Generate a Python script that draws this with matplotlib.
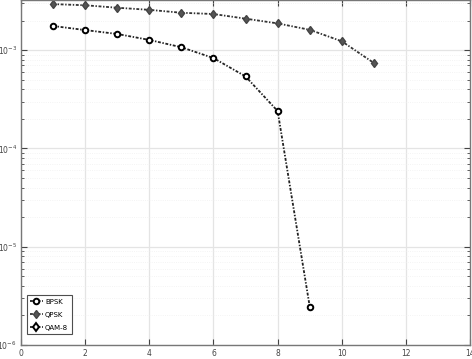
import matplotlib
matplotlib.use("Agg")
import matplotlib.pyplot as plt
from matplotlib.ticker import LogLocator, NullFormatter

# Data
bpsk_x = [1, 2, 3, 4, 5, 6, 7, 8, 9]
bpsk_ber = [1.76e-3, 1.60e-3, 1.46e-3, 1.27e-3, 1.07e-3, 8.3e-4, 5.4e-4, 2.4e-4, 2.46e-6]
qpsk_x = [1, 2, 3, 4, 5, 6, 7, 8, 9, 10, 11]
qpsk_ber = [2.94e-3, 2.86e-3, 2.70e-3, 2.57e-3, 2.40e-3, 2.33e-3, 2.09e-3, 1.87e-3, 1.61e-3, 1.23e-3, 7.4e-4]
qam8_x = []
qam8_ber = []
labels = ["BPSK", "QPSK", "QAM-8"]
xticks = [0, 2, 4, 6, 8, 10, 12, 14]

fig = plt.figure(figsize=(4.72, 3.59), dpi=100)
ax = fig.add_axes([0.0445, 0.039, 0.9515, 0.961])

ls = (0, (1.6, 0.9, 0.8, 0.9))
ax.semilogy(bpsk_x, bpsk_ber, linestyle=ls, color='#222222', linewidth=1.3,
            marker='o', markersize=4, markerfacecolor='white',
            markeredgecolor='black', markeredgewidth=1.4, label=labels[0])
ax.semilogy(qpsk_x, qpsk_ber, linestyle=ls, color='#333333', linewidth=1.3,
            marker='d', markersize=4.5, markerfacecolor='#555555',
            markeredgecolor='#444444', markeredgewidth=1.0, label=labels[1])
ax.semilogy(qam8_x, qam8_ber, linestyle=ls, color='#222222', linewidth=1.3,
            marker='d', markersize=4.5, markerfacecolor='white',
            markeredgecolor='black', markeredgewidth=1.4, label=labels[2])

ax.set_xlim(0, 14)
ax.set_ylim(1e-6, 10 ** -2.49)
ax.set_xticks(xticks)
ax.set_xticklabels([str(t) for t in xticks])
ax.yaxis.set_major_locator(LogLocator(base=10, numticks=10))
ax.yaxis.set_minor_locator(LogLocator(base=10, subs=range(2, 10), numticks=50))
ax.yaxis.set_minor_formatter(NullFormatter())

ax.grid(True, which='major', color='#e4e4e4', linewidth=0.9)
ax.grid(True, which='minor', axis='y', color='#f0f0f0', linewidth=0.6, linestyle=':')
ax.set_axisbelow(True)

ax.tick_params(which='both', direction='in', top=True, right=True,
               labelsize=5.5, colors='#444444', pad=3)
ax.tick_params(which='major', length=4)
ax.tick_params(which='minor', length=2)
for s in ax.spines.values():
    s.set_color('#777777')
    s.set_linewidth(1.0)

ax.set_ylabel("BER", fontsize=6, labelpad=2, color='#333333')

leg = ax.legend(loc='lower left', bbox_to_anchor=(0.008, 0.025), fontsize=5,
                frameon=True, fancybox=False, edgecolor='#222222',
                handlelength=1.8, borderpad=0.5, labelspacing=1.0,
                handletextpad=0.35, borderaxespad=0.3)
leg.get_frame().set_linewidth(0.8)

fig.savefig("out.png", dpi=100)
